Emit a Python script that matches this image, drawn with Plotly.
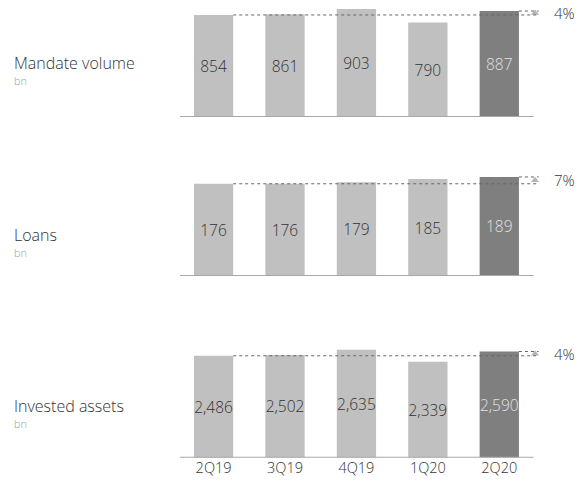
import plotly.graph_objects as go
from plotly.subplots import make_subplots

# data
quarters = ["2Q19", "3Q19", "4Q19", "1Q20", "2Q20"]
mandate_volume = [854, 861, 903, 790, 887]
loans = [176, 176, 179, 185, 189]
invested_assets = [2486, 2502, 2635, 2339, 2590]
value_text_mandate = ["854", "861", "903", "790", "887"]
value_text_loans = ["176", "176", "179", "185", "189"]
value_text_invested = ["2,486", "2,502", "2,635", "2,339", "2,590"]
panel_titles = ["Mandate volume", "Loans", "Invested assets"]
panel_units = ["bn", "bn", "bn"]
growth_labels = ["4%", "7%", "4%"]

W, H = 582, 486
FONT = "Open Sans"
LIGHT = "#c0c0c0"
DARK = "#7f7f7f"

panels = [
    (mandate_volume, value_text_mandate, 117, 3.5, 950),
    (loans, value_text_loans, 276, 171.2, 200),
    (invested_assets, value_text_invested, 457.7, 342.9, 2800),
]

fig = make_subplots(rows=3, cols=1)
xdom = [180 / W, 540 / W]
xrange = [-0.47, 4.57]
xpos = list(range(len(quarters)))

for i, (vals, txt, base_px, top_px, ymax) in enumerate(panels):
    r = i + 1
    colors = [LIGHT] * 4 + [DARK]
    tcolors = ["#333333"] * 4 + ["#e2e2e2"]
    fig.add_trace(go.Bar(x=xpos, y=vals, text=txt, width=0.55,
                         marker=dict(color=colors, line=dict(width=0)),
                         textposition="inside", insidetextanchor="middle",
                         constraintext="none", textangle=0,
                         textfont=dict(family=FONT, size=15.5, color=tcolors, weight=300),
                         hoverinfo="skip", showlegend=False), row=r, col=1)
    # growth marker triangle between the two dotted lines
    fig.add_trace(go.Scatter(x=[4.5], y=[(vals[0] + vals[4]) / 2], mode="markers",
                             marker=dict(symbol="triangle-up", size=7, color="#b5b5b5"),
                             cliponaxis=False, hoverinfo="skip", showlegend=False),
                  row=r, col=1)
    xa = "xaxis" if r == 1 else "xaxis%d" % r
    ya = "yaxis" if r == 1 else "yaxis%d" % r
    xref = "x" if r == 1 else "x%d" % r
    yref = "y" if r == 1 else "y%d" % r
    fig.layout[xa].update(domain=xdom, range=xrange, showgrid=False, zeroline=False,
                          showline=False, ticks="", showticklabels=(r == 3),
                          tickvals=xpos, ticktext=quarters,
                          tickfont=dict(family=FONT, size=14.5, color="#333333", weight=300))
    fig.layout[ya].update(domain=[(H - base_px) / H, (H - top_px) / H], range=[0, ymax],
                          visible=False)
    # baseline
    fig.add_shape(type="line", xref=xref, yref=yref, x0=-0.47, x1=4.48, y0=0, y1=0,
                  line=dict(color="#a8a8a8", width=2), layer="above")
    # dotted reference lines
    fig.add_shape(type="line", xref=xref, yref=yref, x0=0.275, x1=4.55, y0=vals[0], y1=vals[0],
                  line=dict(color="#666666", width=1, dash="dot"), layer="above")
    fig.add_shape(type="line", xref=xref, yref=yref, x0=4.275, x1=4.55, y0=vals[4], y1=vals[4],
                  line=dict(color="#666666", width=1, dash="dot"), layer="above")
    fig.add_annotation(xref="paper", yref=yref, x=552 / W, y=(vals[0] + vals[4]) / 2,
                       xanchor="left", yanchor="middle", text=growth_labels[i], showarrow=False,
                       font=dict(family=FONT, size=15, color="#333333", weight=300))

title_y = [63, 235, 406]
for i in range(3):
    fig.add_annotation(xref="paper", yref="paper", x=12 / W, y=(H - title_y[i]) / H,
                       xanchor="left", yanchor="middle", text=panel_titles[i], showarrow=False,
                       font=dict(family=FONT, size=16, color="#333333", weight=300))
    fig.add_annotation(xref="paper", yref="paper", x=12 / W, y=(H - title_y[i] - 17) / H,
                       xanchor="left", yanchor="middle", text=panel_units[i], showarrow=False,
                       font=dict(family=FONT, size=11, color="#a0a0a0", weight=300))

fig.update_layout(width=W, height=H, margin=dict(l=0, r=0, t=0, b=0),
                  plot_bgcolor="white", paper_bgcolor="white", bargap=0.45)

fig.write_html("out.html", config={"displayModeBar": False},
               post_script="document.body.style.margin='0px';")
